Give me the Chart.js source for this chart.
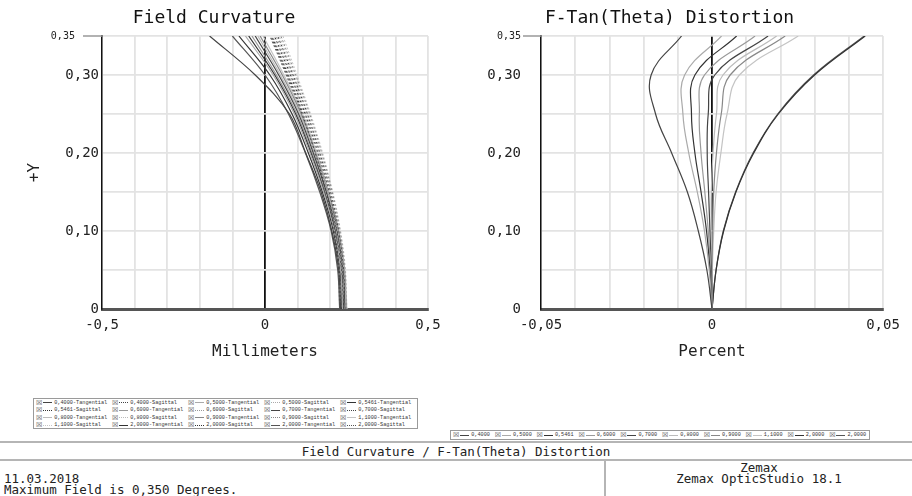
<!DOCTYPE html>
<html>
<head>
<meta charset="utf-8">
<script src="https://cdn.jsdelivr.net/npm/chart.js@4.4.0/dist/chart.umd.min.js"></script>
<style>
  body { margin:0; width:912px; height:496px; background:#fff; position:relative; overflow:hidden;
         font-family:"DejaVu Sans Mono", monospace; color:#222; }
  canvas { position:absolute; top:0; }
  #fcChart { left:0; }
  #distChart { left:456px; }
  .legend { position:absolute; border:1px solid #9a9a9a; background:#fff; display:grid;
            font-family:"Liberation Mono", monospace; font-size:5.2px; color:#333; box-sizing:border-box; }
  .item { white-space:nowrap; display:flex; align-items:center; }
  .chk { font-family:"DejaVu Sans", sans-serif; font-size:7px; color:#555; margin-right:1px; }
  .ln { display:inline-block; height:0; margin-right:2px; }
  .hline { position:absolute; left:0; width:912px; height:0; border-top:2px solid #b5b5b5; }
  .ftxt { position:absolute; font-size:12.5px; white-space:nowrap; line-height:12px; }
</style>
</head>
<body>
<canvas id="fcChart" width="456" height="380"></canvas>
<canvas id="distChart" width="456" height="380"></canvas>
<div id="fcLegend" class="legend"></div>
<div id="distLegend" class="legend"></div>

<div class="hline" style="top:441px"></div>
<div class="ftxt" style="left:0;width:912px;text-align:center;top:446px">Field Curvature / F-Tan(Theta) Distortion</div>
<div class="hline" style="top:459px"></div>
<div style="position:absolute;left:604px;top:460px;width:0;height:36px;border-left:2px solid #b5b5b5"></div>
<div class="ftxt" style="left:606px;width:306px;text-align:center;top:462px">Zemax</div>
<div class="ftxt" style="left:606px;width:306px;text-align:center;top:473px">Zemax OpticStudio 18.1</div>
<div class="ftxt" style="left:4px;top:473px">11.03.2018</div>
<div class="ftxt" style="left:4px;top:484px">Maximum Field is 0,350 Degrees.</div>

<script>
// wavelengths (µm) as shown in the legends
const wavelengths = ['0,4000', '0,5000', '0,5461', '0,6000', '0,7000', '0,8000', '0,9000', '1,1000', '2,0000', '2,0000'];
const lineColors  = ['#444', '#aaa', '#333', '#999', '#444', '#bbb', '#888', '#c4c4c4', '#333', '#555'];

// field curvature: +Y field (deg) vs focus shift (mm)
const fieldY = [0, 0.05, 0.10, 0.15, 0.20, 0.25, 0.30, 0.35];
const tangentialX = [
  [0.232, 0.226, 0.205, 0.172, 0.125, 0.075, -0.030, -0.170],
  [0.238, 0.232, 0.213, 0.180, 0.138, 0.090, 0.025, -0.060],
  [0.240, 0.234, 0.215, 0.182, 0.141, 0.094, 0.030, -0.050],
  [0.242, 0.236, 0.217, 0.184, 0.144, 0.098, 0.035, -0.040],
  [0.245, 0.239, 0.220, 0.188, 0.148, 0.103, 0.042, -0.030],
  [0.247, 0.241, 0.222, 0.190, 0.151, 0.107, 0.047, -0.022],
  [0.249, 0.243, 0.225, 0.193, 0.155, 0.111, 0.053, -0.015],
  [0.251, 0.245, 0.227, 0.196, 0.158, 0.115, 0.058, -0.006],
  [0.236, 0.230, 0.210, 0.176, 0.133, 0.083, 0.015, -0.080],
  [0.229, 0.223, 0.203, 0.168, 0.124, 0.072, 0.000, -0.100]
];
const sagittalX = [
  [0.232, 0.228, 0.213, 0.188, 0.154, 0.114, 0.068, 0.018],
  [0.238, 0.234, 0.219, 0.194, 0.160, 0.120, 0.074, 0.024],
  [0.240, 0.236, 0.221, 0.196, 0.162, 0.123, 0.078, 0.029],
  [0.242, 0.238, 0.223, 0.198, 0.165, 0.126, 0.082, 0.034],
  [0.245, 0.241, 0.226, 0.201, 0.168, 0.130, 0.086, 0.039],
  [0.247, 0.243, 0.228, 0.203, 0.171, 0.133, 0.090, 0.044],
  [0.249, 0.245, 0.230, 0.206, 0.174, 0.137, 0.094, 0.049],
  [0.251, 0.247, 0.232, 0.208, 0.177, 0.140, 0.098, 0.055],
  [0.236, 0.232, 0.216, 0.191, 0.157, 0.117, 0.071, 0.021],
  [0.229, 0.225, 0.210, 0.185, 0.151, 0.111, 0.065, 0.015]
];

// F-Tan(Theta) distortion (percent)
const distY = [0, 0.05, 0.10, 0.15, 0.20, 0.25, 0.30, 0.35];
const distortionX = [
  [0, -0.0015, -0.0040, -0.0072, -0.0118, -0.0165, -0.0178, -0.0089],
  [0, -0.0008, -0.0022, -0.0043, -0.0068, -0.0085, -0.0080, 0.0028],
  [0, -0.0006, -0.0016, -0.0032, -0.0050, -0.0060, -0.0050, 0.0072],
  [0, -0.0004, -0.0011, -0.0021, -0.0032, -0.0037, -0.0022, 0.0126],
  [0, -0.0002, -0.0006, -0.0010, -0.0014, -0.0011, 0.0008, 0.0164],
  [0, -0.0001, -0.0002, -0.0002, 0.0003, 0.0013, 0.0032, 0.0189],
  [0, 0.0000, 0.0002, 0.0005, 0.0013, 0.0027, 0.0053, 0.0214],
  [0, 0.0001, 0.0005, 0.0012, 0.0026, 0.0044, 0.0080, 0.0252],
  [0, 0.0012, 0.0034, 0.0070, 0.0122, 0.0194, 0.0300, 0.0448],
  [0, 0.0012, 0.0033, 0.0069, 0.0120, 0.0192, 0.0297, 0.0445]
];

// tick labels
const yTickValues = [0, 0.10, 0.20, 0.30, 0.35];
const yTickText   = ['0', '0,10', '0,20', '0,30', '0,35'];
const fcXTickValues = [-0.5, 0, 0.5];
const fcXTickText   = ['-0,5', '0', '0,5'];
const distXTickValues = [-0.05, 0, 0.05];
const distXTickText   = ['-0,05', '0', '0,05'];

Chart.defaults.font.family = "'DejaVu Sans Mono', monospace";
Chart.defaults.color = '#222';

function pickLabel(v, values, texts) {
  for (let i = 0; i < values.length; i++) {
    if (Math.abs(v - values[i]) < 1e-9) return texts[i];
  }
  return '';
}

// small gray tick line next to the top label
const topTickMark = {
  id: 'topTickMark',
  afterDraw(chart, args, opts) {
    const y = chart.scales.y.getPixelForValue(yTickValues[yTickValues.length - 1]);
    const left = chart.chartArea.left;
    const ctx = chart.ctx;
    ctx.save();
    ctx.strokeStyle = '#999';
    ctx.lineWidth = 1.5;
    ctx.beginPath();
    ctx.moveTo(left - opts.length, y);
    ctx.lineTo(left, y);
    ctx.stroke();
    ctx.restore();
  }
};

function makeOptions(cfg) {
  return {
    responsive: false,
    animation: false,
    devicePixelRatio: 1,
    layout: { padding: { top: 0, left: 0, right: cfg.padRight, bottom: 15 } },
    plugins: {
      legend: { display: false },
      tooltip: { enabled: false },
      title: {
        display: true,
        text: cfg.title,
        color: '#111',
        font: { size: 18, weight: 'normal' },
        padding: { top: 8, bottom: 6.4 }
      },
      topTickMark: { length: cfg.dash }
    },
    scales: {
      x: {
        type: 'linear',
        min: cfg.xMin, max: cfg.xMax,
        afterFit: (s) => { s.height = 56; },
        ticks: {
          stepSize: cfg.xStep, autoSkip: false, maxRotation: 0, padding: 8,
          font: { size: 14 },
          callback: (v) => pickLabel(v, cfg.xTickValues, cfg.xTickText)
        },
        grid: {
          drawTicks: false, lineWidth: 1.8,
          color: (c) => Math.abs(c.tick.value) < 1e-9 ? '#111' : '#e3e3e3'
        },
        border: { color: '#555', width: 3 },
        title: { display: true, text: cfg.xTitle, font: { size: 16 }, padding: { top: 0, bottom: 4 } }
      },
      y: {
        type: 'linear',
        min: 0, max: 0.35,
        afterFit: (s) => { s.width = cfg.yWidth; },
        ticks: {
          stepSize: 0.05, autoSkip: false, padding: cfg.yPad,
          font: (c) => ({ size: c.tick && c.tick.value > 0.34 ? 10 : 14 }),
          callback: (v) => {
            const t = pickLabel(v, yTickValues, yTickText);
            return v > 0.34 ? t + cfg.topSpaces : t;
          }
        },
        grid: { drawTicks: false, lineWidth: 1.8, color: '#e3e3e3' },
        border: { color: '#111', width: 1.5 },
        title: cfg.yTitle
          ? { display: true, text: cfg.yTitle, font: { size: 16 }, padding: { top: 25, bottom: 0 } }
          : { display: false }
      }
    }
  };
}

function curve(xs, ys) {
  return xs.map((x, i) => ({ x: x, y: ys[i] }));
}

// field curvature datasets: tangential solid, sagittal dotted
const fcDatasets = [];
wavelengths.forEach((w, i) => {
  fcDatasets.push({
    label: w + '-Tangential', data: curve(tangentialX[i], fieldY),
    borderColor: lineColors[i], borderWidth: 1.2, showLine: true, pointRadius: 0, tension: 0.35
  });
  fcDatasets.push({
    label: w + '-Sagittal', data: curve(sagittalX[i], fieldY),
    borderColor: lineColors[i], borderWidth: 1, borderDash: [2, 2], showLine: true, pointRadius: 0, tension: 0.35
  });
});

const distDatasets = wavelengths.map((w, i) => ({
  label: w, data: curve(distortionX[i], distY),
  borderColor: lineColors[i], borderWidth: 1.2, showLine: true, pointRadius: 0, tension: 0.4
}));

new Chart(document.getElementById('fcChart'), {
  type: 'scatter',
  data: { datasets: fcDatasets },
  options: makeOptions({
    title: 'Field Curvature', xTitle: 'Millimeters', yTitle: '+Y',
    xMin: -0.5, xMax: 0.5, xStep: 0.1, xTickValues: fcXTickValues, xTickText: fcXTickText,
    yWidth: 102, yPad: 3, padRight: 28, dash: 19, topSpaces: '    '
  }),
  plugins: [topTickMark]
});

new Chart(document.getElementById('distChart'), {
  type: 'scatter',
  data: { datasets: distDatasets },
  options: makeOptions({
    title: 'F-Tan(Theta) Distortion', xTitle: 'Percent', yTitle: null,
    xMin: -0.05, xMax: 0.05, xStep: 0.01, xTickValues: distXTickValues, xTickText: distXTickText,
    yWidth: 85, yPad: 20, padRight: 29, dash: 18, topSpaces: ''
  }),
  plugins: [topTickMark]
});

// HTML legends built from the same series
function legendItem(color, dotted, text, lineW) {
  return '<span class="item"><span class="chk">\u2612</span><span class="ln" style="width:' + lineW +
    'px;border-top:1.2px ' + (dotted ? 'dotted' : 'solid') + ' ' + color + '"></span>' + text + '</span>';
}

const fcLegend = document.getElementById('fcLegend');
Object.assign(fcLegend.style, {
  left: '33px', top: '398px', width: '385px', height: '31px',
  gridTemplateColumns: 'repeat(5, 76px)', gridAutoRows: '7.5px', paddingLeft: '2px'
});
fcLegend.innerHTML = fcDatasets.map((d) =>
  legendItem(d.borderColor, !!d.borderDash, d.label, 9)).join('');

const distLegend = document.getElementById('distLegend');
Object.assign(distLegend.style, {
  left: '450px', top: '430px', width: '420px', height: '10px',
  gridTemplateColumns: 'repeat(10, 41.8px)', gridAutoRows: '8px', paddingLeft: '2px'
});
distLegend.innerHTML = distDatasets.map((d) =>
  legendItem(d.borderColor, false, d.label, 9)).join('');
</script>
</body>
</html>
